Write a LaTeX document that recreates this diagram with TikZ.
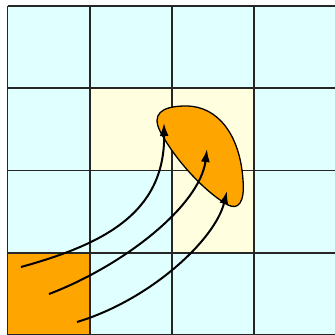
\documentclass[tikz,border=0pt]{standalone}
\usetikzlibrary{arrows.meta}
\definecolor{cellcyan}{HTML}{E0FFFF}
\definecolor{cellyellow}{HTML}{FFFFE0}
\definecolor{blob}{HTML}{FFA500}
\tikzset{
  gridline/.style={draw=black!85, line width=1.3pt},
  flow/.style={draw=black, line width=2pt, -{Latex[length=13pt,width=9pt]}},
  blobshape/.style={fill=blob, draw=black, line width=1.3pt},
}
\begin{document}
\begin{tikzpicture}[x=1pt,y=-1pt]
\useasboundingbox (0,0) rectangle (335,335);
\clip (0,0) rectangle (335,335);
% cells
\fill[cellcyan] (7.5,6) rectangle (337,337);
\fill[cellyellow] (90,88) rectangle (254,170.5);
\fill[cellyellow] (172,170.5) rectangle (254,253);
\fill[blob] (7.5,253) rectangle (90,337);
% grid
\foreach \x in {7.5,90,172,254,336} \draw[gridline] (\x,6) -- (\x,337);
\foreach \y in {6,88,170.5,253,335} \draw[gridline] (7.5,\y) -- (337,\y);
% blob
\draw[blobshape] (160,131) .. controls (152,115) and (160,106) .. (186,106)
  .. controls (218,106) and (240,135) .. (243,180)
  .. controls (245,203) and (238,210) .. (228,205)
  .. controls (205,192) and (175,160) .. (160,131) -- cycle;
% arrows
\coordinate (s1) at (21,267);
\coordinate (e1) at (164,123);
\coordinate (s2) at (49,294);
\coordinate (e2) at (207,149);
\coordinate (s3) at (77,322);
\coordinate (e3) at (227,191);
\draw[flow] (s1) .. controls (100,245) and (165,215) .. (e1);
\draw[flow] (s2) .. controls (125,265) and (200,205) .. (e2);
\draw[flow] (s3) .. controls (150,300) and (215,240) .. (e3);
\end{tikzpicture}
\end{document}
